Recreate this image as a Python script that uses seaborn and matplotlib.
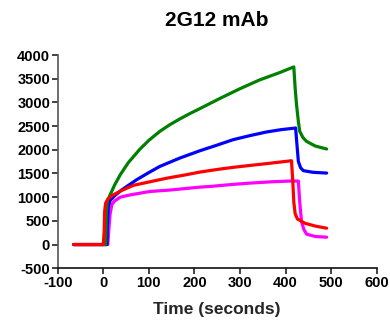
import matplotlib
matplotlib.use("Agg")
import matplotlib.pyplot as plt
import seaborn as sns
import pandas as pd

# ---- data ----
green_t = [-65, 5, 6, 7, 9, 15, 25, 37, 55, 80, 100, 124, 146, 168, 190, 212, 256, 300, 343, 387, 418,
           421, 424, 428, 431, 438, 446, 465, 490]
green_y = [0, 0, 400, 750, 920, 1050, 1260, 1470, 1730, 2010, 2200, 2389, 2530, 2652, 2765, 2870,
           3085, 3290, 3475, 3630, 3750,
           3300, 2954, 2600, 2390, 2260, 2178, 2080, 2017]

blue_t = [-65, 8, 9, 11, 15, 25, 40, 73, 100, 124, 168, 212, 250, 285, 322, 358, 390, 422,
          425, 428, 433, 439, 460, 490]
blue_y = [0, 0, 400, 800, 930, 1030, 1150, 1367, 1520, 1649, 1826, 1980, 2100, 2214, 2300, 2376, 2425, 2460,
          2100, 1754, 1620, 1560, 1525, 1509]

red_t = [-65, 0, 2, 3, 5, 10, 20, 40, 66, 100, 139, 180, 212, 250, 285, 322, 358, 413,
         416, 418, 421, 426, 442, 465, 490]
red_y = [0, 0, 300, 700, 870, 960, 1040, 1140, 1250, 1320, 1400, 1470, 1530, 1585, 1630, 1670, 1708, 1769,
         1300, 900, 650, 540, 451, 390, 345]

magenta_t = [-65, 10, 12, 15, 19, 25, 37, 60, 102, 146, 212, 234, 285, 322, 370, 409, 428,
             431, 435, 440, 446, 465, 490]
magenta_y = [0, 0, 300, 650, 850, 920, 1000, 1050, 1120, 1150, 1212, 1226, 1270, 1297, 1325, 1340, 1340,
             900, 485, 320, 220, 170, 155]

x_ticks = [-100, 0, 100, 200, 300, 400, 500, 600]
y_ticks = [-500, 0, 500, 1000, 1500, 2000, 2500, 3000, 3500, 4000]

series = {"magenta": (magenta_t, magenta_y), "blue": (blue_t, blue_y),
          "green": (green_t, green_y), "red": (red_t, red_y)}
colors = {"magenta": "#FF00FF", "blue": "#0000FF", "green": "#008000", "red": "#FF0000"}

rows = []
for name, (t, y) in series.items():
    for ti, yi in zip(t, y):
        rows.append({"series": name, "time": ti, "resp": yi})
df = pd.DataFrame(rows)

sns.set_style("ticks")
plt.rcParams["font.family"] = ["Liberation Sans", "DejaVu Sans"]
plt.rcParams["font.weight"] = "bold"

fig = plt.figure(figsize=(3.9, 3.22), dpi=100)
ax = fig.add_axes([0.148, 0.167, 0.818, 0.662])

sns.lineplot(data=df, x="time", y="resp", hue="series",
             hue_order=["magenta", "blue", "green", "red"], palette=colors,
             estimator=None, sort=False, linewidth=2.3, legend=False, ax=ax)

ax.set_xlim(-100, 600)
ax.set_ylim(-500, 4000)
ax.set_xticks(x_ticks)
ax.set_yticks(y_ticks)
ax.set_xticklabels([str(v) for v in x_ticks], fontsize=10.5, fontweight="bold")
ax.set_yticklabels([str(v) for v in y_ticks], fontsize=10.5, fontweight="bold")
ax.set_xlabel("Time (seconds)", fontsize=12.5, fontweight="bold", labelpad=9)
ax.set_ylabel("")
ax.set_title("2G12 mAb", fontsize=15, fontweight="bold", pad=21, color="#000000")

for s in ["top", "right"]:
    ax.spines[s].set_visible(False)
for s in ["left", "bottom"]:
    ax.spines[s].set_linewidth(1.2)
ax.spines["left"].set_color("#555555")
ax.spines["bottom"].set_color("#111111")
ax.tick_params(axis="both", direction="out", length=4.5, width=1.2, colors="#222222",
               labelcolor="#000000", pad=1)

fig.savefig("out.png", dpi=100)
